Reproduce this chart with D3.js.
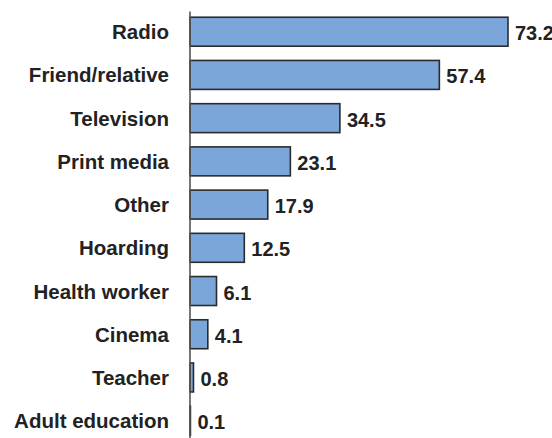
<!DOCTYPE html>
<html><head><meta charset="utf-8">
<script src="https://cdn.jsdelivr.net/npm/d3@7"></script>
<style>html,body{margin:0;padding:0;background:#fff;overflow:hidden}</style>
</head><body>
<svg id="c" width="552" height="438"></svg>
<script>
const categories = ["Radio","Friend/relative","Television","Print media","Other","Hoarding","Health worker","Cinema","Teacher","Adult education"];
const values = [73.2,57.4,34.5,23.1,17.9,12.5,6.1,4.1,0.8,0.1];
const valueLabels = ["73.2","57.4","34.5","23.1","17.9","12.5","6.1","4.1","0.8","0.1"];

const svg = d3.select("#c");
const x0 = 190;
const x = d3.scaleLinear().domain([0, 73.2]).range([x0, 508]);
const y = d3.scaleBand().domain(categories).range([10.1, 442.3]).paddingInner(0.33).paddingOuter(0.165);

const font = "'Liberation Sans', Arial, sans-serif";

svg.selectAll("rect.bar").data(values).join("rect")
  .attr("class","bar")
  .attr("x", x0)
  .attr("y", (d,i)=>y(categories[i]))
  .attr("width", d=>x(d)-x0)
  .attr("height", y.bandwidth())
  .attr("fill", "#7BA6DA")
  .attr("stroke", "#2b2b2b")
  .attr("stroke-width", 1.6);

svg.append("line")
  .attr("x1", x0).attr("x2", x0)
  .attr("y1", 11.5).attr("y2", 438)
  .attr("stroke", "#555").attr("stroke-width", 1.6);

svg.selectAll("text.cat").data(categories).join("text")
  .attr("class","cat")
  .attr("x", 169)
  .attr("y", d=>y(d)+y.bandwidth()/2+7.5)
  .attr("text-anchor","end")
  .attr("font-family", font)
  .attr("font-weight","bold")
  .attr("font-size","20.5px")
  .attr("fill","#222")
  .text(d=>d);

svg.selectAll("text.val").data(values).join("text")
  .attr("class","val")
  .attr("x", d=>x(d)+7)
  .attr("y", (d,i)=>y(categories[i])+y.bandwidth()/2+8.5)
  .attr("font-family", font)
  .attr("font-weight","bold")
  .attr("font-size","20px")
  .attr("fill","#222")
  .text((d,i)=>valueLabels[i]);
</script>
</body></html>
